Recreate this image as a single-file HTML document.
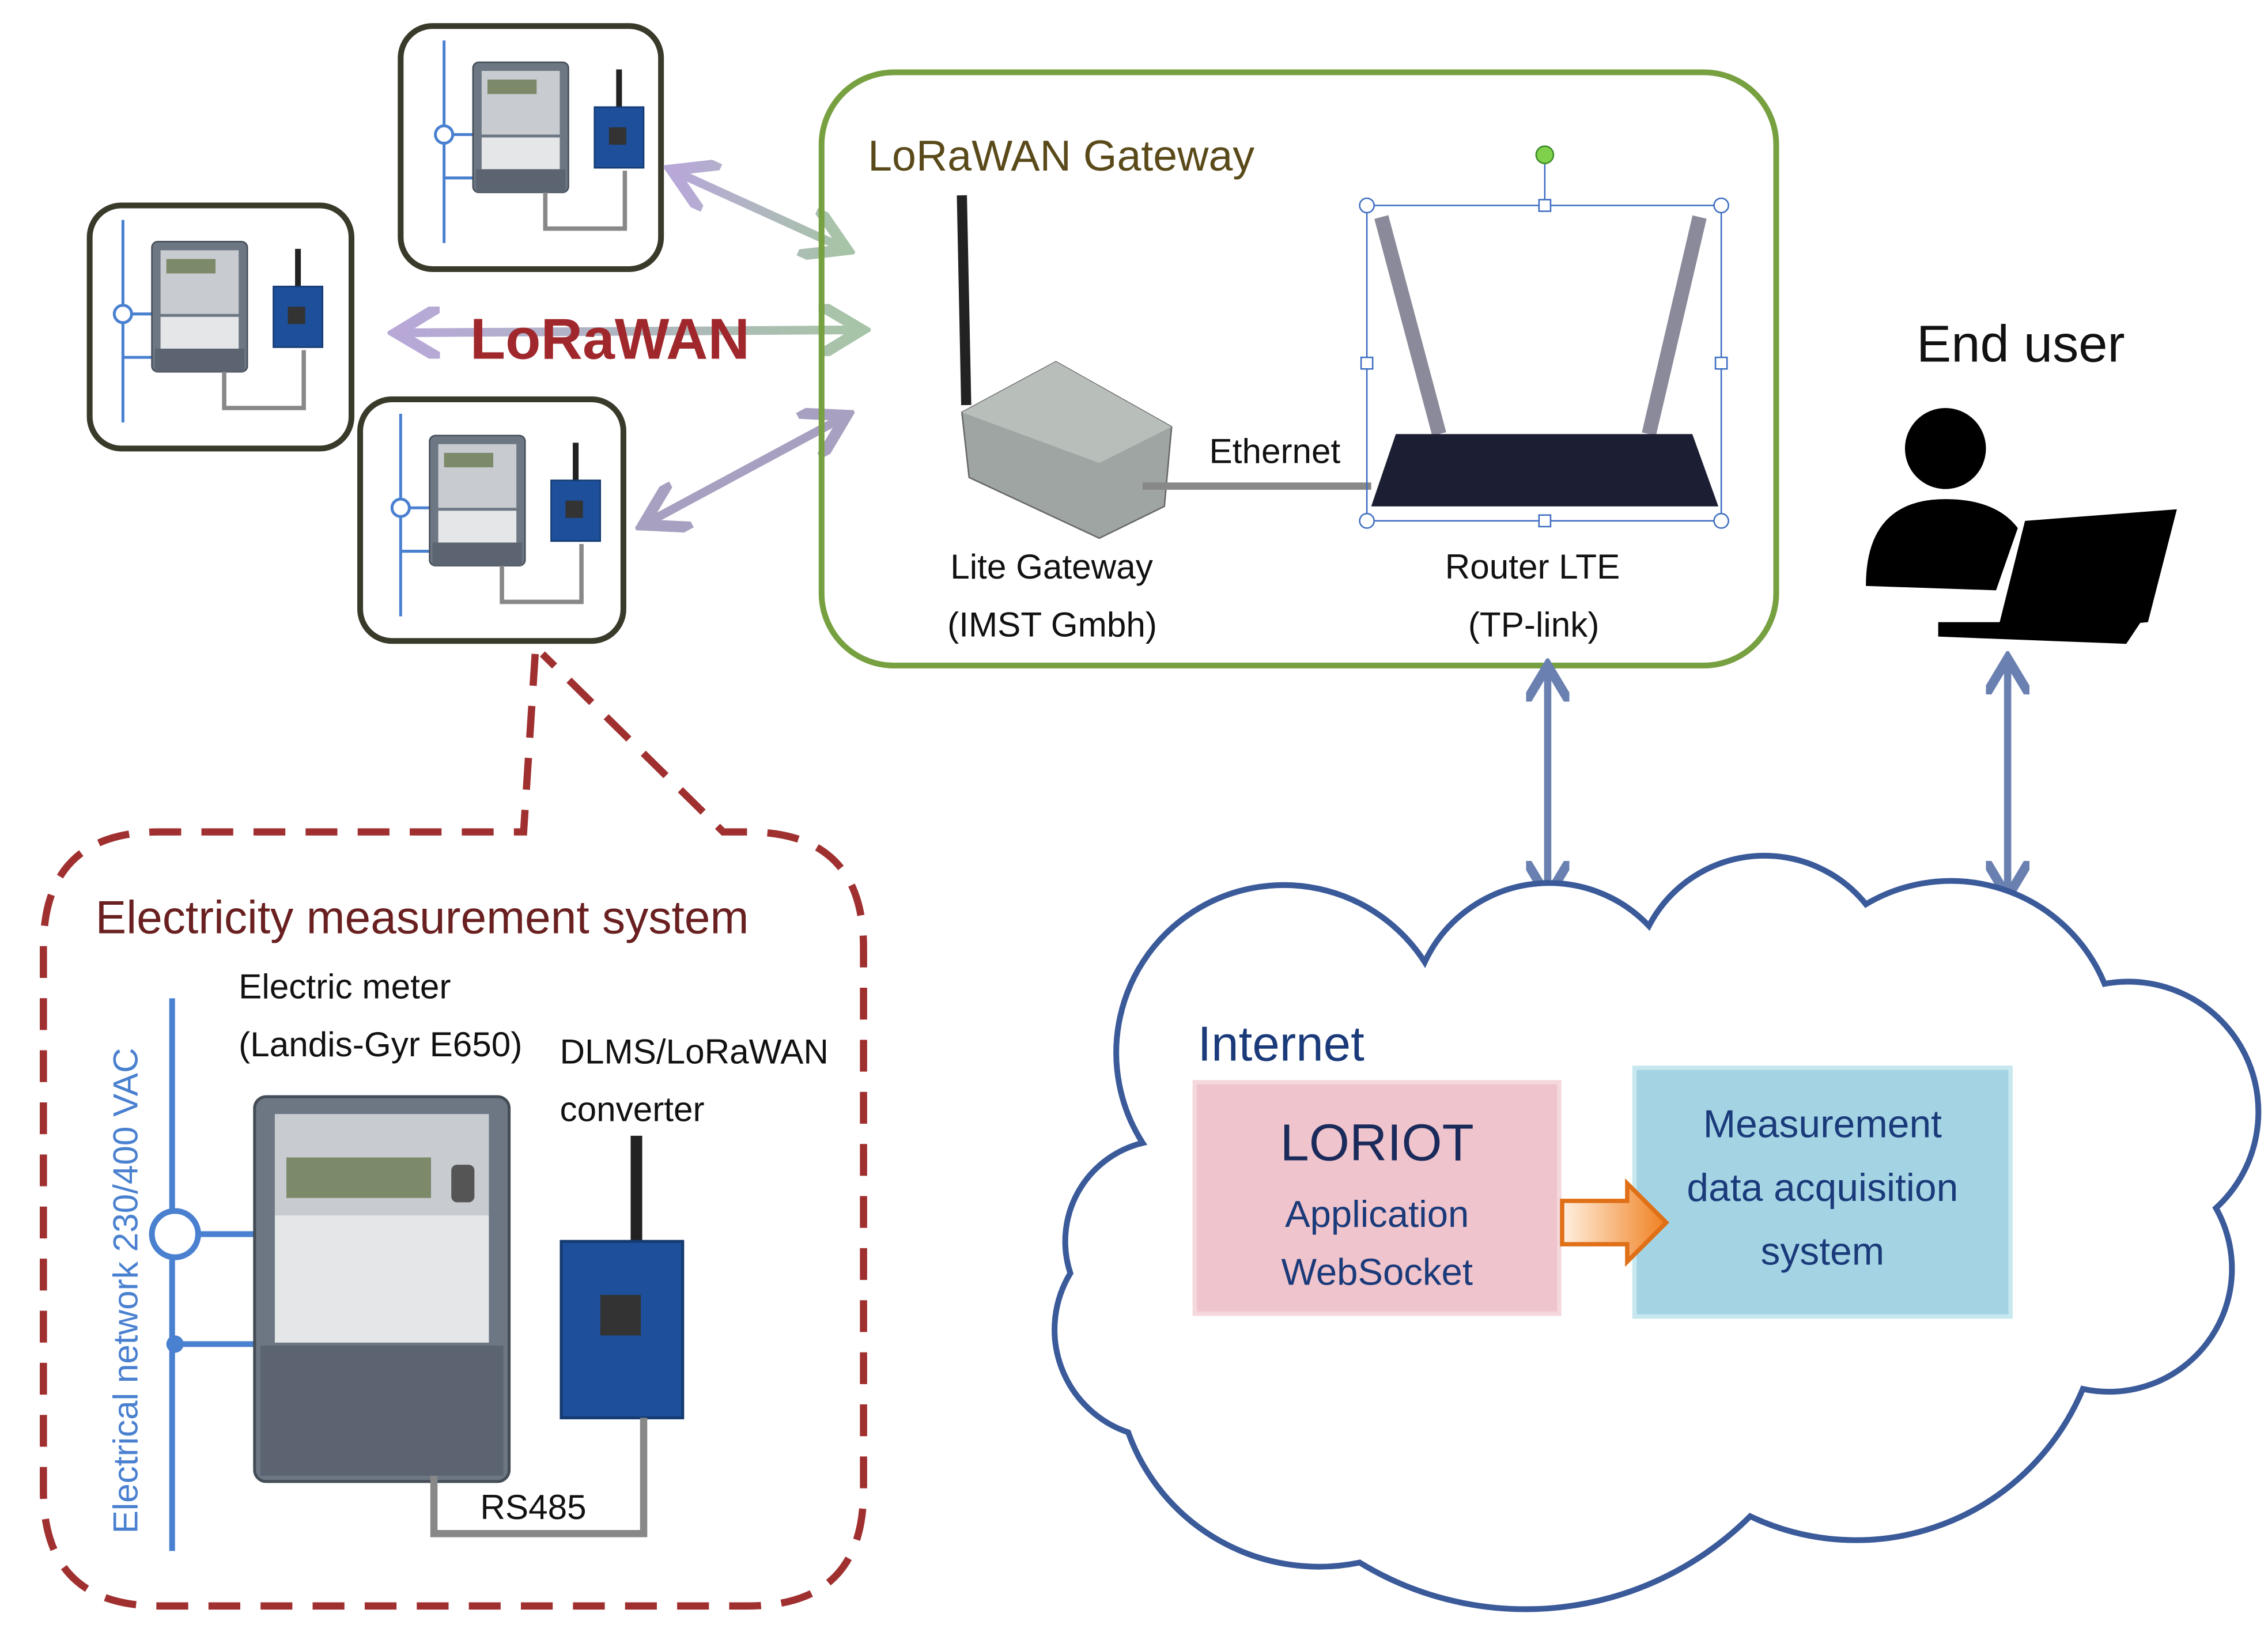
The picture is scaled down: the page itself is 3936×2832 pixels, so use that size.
<!DOCTYPE html>
<html><head><meta charset="utf-8"><style>
html,body{margin:0;padding:0;background:#fff;}
svg{display:block;}
text{font-family:"Liberation Sans","DejaVu Sans",sans-serif;}
</style></head><body>
<svg width="3936" height="2832" viewBox="0 0 1568 1128" preserveAspectRatio="none" xmlns="http://www.w3.org/2000/svg">
<defs>
<marker id="ah" markerWidth="6" markerHeight="6" refX="4" refY="3" orient="auto-start-reverse" markerUnits="strokeWidth"><path d="M0,0 L5,3 L0,6" fill="none" stroke="context-stroke" stroke-width="1.3"/></marker>
<linearGradient id="lg1" x1="0" x2="1"><stop offset="0" stop-color="#b7a8d8"/><stop offset="1" stop-color="#a8c4a8"/></linearGradient>
<linearGradient id="og" x1="0" x2="1"><stop offset="0" stop-color="#fff0e0"/><stop offset="1" stop-color="#f08020"/></linearGradient>
<g id="meter">
 <rect x="0" y="0" width="66" height="90" rx="4" fill="#6d7784" stroke="#444c56"/>
 <rect x="6" y="6" width="54" height="44" fill="#c8ccd0"/>
 <rect x="10" y="12" width="34" height="10" fill="#7c8a6a"/>
 <rect x="6" y="52" width="54" height="22" fill="#e4e6e8"/>
 <rect x="2" y="74" width="62" height="16" fill="#5b6470"/>
</g>
<g id="board">
 <line x1="19" y1="0" x2="19" y2="26" stroke="#222" stroke-width="4"/>
 <rect x="2" y="26" width="34" height="42" fill="#1d4f9a" stroke="#143a70"/>
 <rect x="12" y="40" width="12" height="12" fill="#333"/>
</g>
<g id="small">
 <line x1="30" y1="10" x2="30" y2="150" stroke="#4a80d0" stroke-width="2"/>
 <circle cx="30" cy="75" r="6" fill="#fff" stroke="#4a80d0" stroke-width="2"/>
 <line x1="36" y1="75" x2="55" y2="75" stroke="#4a80d0" stroke-width="2"/>
 <line x1="30" y1="105" x2="55" y2="105" stroke="#4a80d0" stroke-width="2"/>
 <use href="#meter" x="50" y="25"/>
 <use href="#board" x="132" y="30"/>
 <polyline points="100,115 100,140 155,140 155,100" fill="none" stroke="#888" stroke-width="3"/>
</g>
</defs>

<rect x="277" y="18" width="180" height="168" rx="22" fill="#fff" stroke="#3a3a2a" stroke-width="4"/>
<use href="#small" x="277" y="18"/>
<rect x="62" y="142" width="181" height="168" rx="22" fill="#fff" stroke="#3a3a2a" stroke-width="4"/>
<use href="#small" x="55" y="142"/>
<rect x="249" y="276" width="182" height="167" rx="22" fill="#fff" stroke="#3a3a2a" stroke-width="4"/>
<use href="#small" x="247" y="276"/>

<line x1="470" y1="120" x2="580" y2="170" stroke="url(#lg1)" stroke-width="6" marker-start="url(#ah)" marker-end="url(#ah)"/>
<line x1="280" y1="230" x2="590" y2="228" stroke="url(#lg1)" stroke-width="6" marker-start="url(#ah)" marker-end="url(#ah)"/>
<line x1="450" y1="360" x2="580" y2="290" stroke="#a8a0c0" stroke-width="6" marker-start="url(#ah)" marker-end="url(#ah)"/>
<text x="325" y="248" font-size="40" font-weight="bold" fill="#a0282c">LoRaWAN</text>

<rect x="568" y="50" width="660" height="410" rx="50" fill="none" stroke="#77a040" stroke-width="4"/>
<text x="600" y="118" font-size="30" fill="#5a4a1a">LoRaWAN Gateway</text>
<line x1="665" y1="135" x2="668" y2="280" stroke="#222" stroke-width="7"/>
<polygon points="665,285 730,250 810,295 805,350 760,372 670,330" fill="#9ea5a2" stroke="#666"/>
<polygon points="730,250 810,295 760,320 665,285" fill="#b8beba"/>
<line x1="790" y1="336" x2="948" y2="336" stroke="#888" stroke-width="5"/>
<text x="836" y="320" font-size="24" fill="#111">Ethernet</text>
<text x="657" y="400" font-size="24" fill="#111">Lite Gateway</text>
<text x="655" y="440" font-size="24" fill="#111">(IMST Gmbh)</text>
<rect x="945" y="142" width="245" height="218" fill="none" stroke="#3c6cc0" stroke-width="1"/>
<line x1="1068" y1="108" x2="1068" y2="142" stroke="#3c6cc0"/>
<circle cx="1068" cy="107" r="6" fill="#7fd04a" stroke="#3c8a2a"/>
<line x1="955" y1="150" x2="995" y2="300" stroke="#8a8a9a" stroke-width="10"/>
<line x1="1175" y1="150" x2="1140" y2="300" stroke="#8a8a9a" stroke-width="10"/>
<polygon points="948,350 965,300 1170,300 1188,350" fill="#1c1f33"/>
<g fill="#fff" stroke="#3c6cc0">
<circle cx="945" cy="142" r="5"/><circle cx="1190" cy="142" r="5"/><circle cx="945" cy="360" r="5"/><circle cx="1190" cy="360" r="5"/>
<rect x="1064" y="138" width="8" height="8"/><rect x="941" y="247" width="8" height="8"/><rect x="1186" y="247" width="8" height="8"/><rect x="1064" y="356" width="8" height="8"/></g>
<text x="999" y="400" font-size="24" fill="#111">Router LTE</text>
<text x="1015" y="440" font-size="24" fill="#111">(TP-link)</text>

<text x="1325" y="250" font-size="36" fill="#111">End user</text>
<circle cx="1345" cy="310" r="28" fill="#000"/>
<path d="M1290,405 Q1290,345 1345,345 Q1380,345 1395,365 L1380,408 Z" fill="#000"/>
<polygon points="1400,360 1505,352 1485,430 1380,440" fill="#000"/>
<polygon points="1340,430 1480,430 1470,445 1340,440" fill="#000"/>

<line x1="1070" y1="465" x2="1070" y2="615" stroke="#6a80b0" stroke-width="5" marker-start="url(#ah)" marker-end="url(#ah)"/>
<line x1="1388" y1="460" x2="1388" y2="615" stroke="#6a80b0" stroke-width="5" marker-start="url(#ah)" marker-end="url(#ah)"/>

<path d="M790,790 A100 100 0 0 1 985,665 A95 95 0 0 1 1140,640 A90 90 0 0 1 1290,625 A115 115 0 0 1 1455,680 A90 90 0 0 1 1532,835 A85 85 0 0 1 1440,960 A170 170 0 0 1 1210,1048 A220 220 0 0 1 940,1080 A140 140 0 0 1 780,990 A75 75 0 0 1 740,880 A70 70 0 0 1 790,790 Z" fill="#fff" stroke="#3a5a9a" stroke-width="4"/>
<text x="828" y="733" font-size="34" fill="#1a3a7a">Internet</text>
<rect x="826" y="748" width="252" height="160" fill="#f0c4cc" stroke="#f4d8dc" stroke-width="3"/>
<text x="952" y="802" font-size="36" fill="#1a2a5a" text-anchor="middle">LORIOT</text>
<text x="952" y="848" font-size="26" fill="#1a3a7a" text-anchor="middle">Application</text>
<text x="952" y="888" font-size="26" fill="#1a3a7a" text-anchor="middle">WebSocket</text>
<rect x="1130" y="738" width="260" height="172" fill="#a4d4e4" stroke="#c8e8f0" stroke-width="3"/>
<text x="1260" y="786" font-size="27" fill="#1a3a7a" text-anchor="middle">Measurement</text>
<text x="1260" y="830" font-size="27" fill="#1a3a7a" text-anchor="middle">data acquisition</text>
<text x="1260" y="874" font-size="27" fill="#1a3a7a" text-anchor="middle">system</text>
<polygon points="1080,830 1125,830 1125,818 1152,845 1125,872 1125,860 1080,860" fill="url(#og)" stroke="#e07018" stroke-width="3"/>

<path d="M370,452 L362,575 L110,575 Q30,575 30,655 L30,1030 Q30,1110 110,1110 L517,1110 Q597,1110 597,1030 L597,655 Q597,575 517,575 L500,575 L375,452" fill="none" stroke="#a03030" stroke-width="5" stroke-dasharray="22,14"/>
<text x="66" y="645" font-size="32" fill="#6a2020">Electricity measurement system</text>
<text x="165" y="690" font-size="24" fill="#111">Electric meter</text>
<text x="165" y="730" font-size="24" fill="#111">(Landis-Gyr E650)</text>
<text x="387" y="735" font-size="24" fill="#111">DLMS/LoRaWAN</text>
<text x="387" y="775" font-size="24" fill="#111">converter</text>
<text transform="translate(95,1060) rotate(-90)" font-size="24" fill="#4a80d0">Electrical network 230/400 VAC</text>
<line x1="119" y1="690" x2="119" y2="1072" stroke="#4a80d0" stroke-width="4"/>
<circle cx="121" cy="853" r="16" fill="#fff" stroke="#4a80d0" stroke-width="4"/>
<line x1="137" y1="853" x2="178" y2="853" stroke="#4a80d0" stroke-width="4"/>
<circle cx="121" cy="929" r="6" fill="#4a80d0"/>
<line x1="121" y1="929" x2="178" y2="929" stroke="#4a80d0" stroke-width="4"/>
<rect x="176" y="758" width="176" height="266" rx="8" fill="#6d7784" stroke="#444c56" stroke-width="2"/>
<rect x="190" y="770" width="148" height="70" fill="#c8ccd0"/>
<rect x="198" y="800" width="100" height="28" fill="#7c8a6a"/>
<rect x="312" y="805" width="16" height="26" rx="4" fill="#555"/>
<rect x="190" y="840" width="148" height="88" fill="#e4e6e8"/>
<rect x="180" y="930" width="168" height="90" fill="#5b6470"/>
<line x1="440" y1="785" x2="440" y2="860" stroke="#222" stroke-width="8"/>
<rect x="388" y="858" width="84" height="122" fill="#1d4f9a" stroke="#143a70" stroke-width="2"/>
<rect x="415" y="895" width="28" height="28" fill="#333"/>
<polyline points="300,1020 300,1060 445,1060 445,980" fill="none" stroke="#888" stroke-width="5"/>
<text x="332" y="1050" font-size="24" fill="#111">RS485</text>
</svg>
</body></html>
